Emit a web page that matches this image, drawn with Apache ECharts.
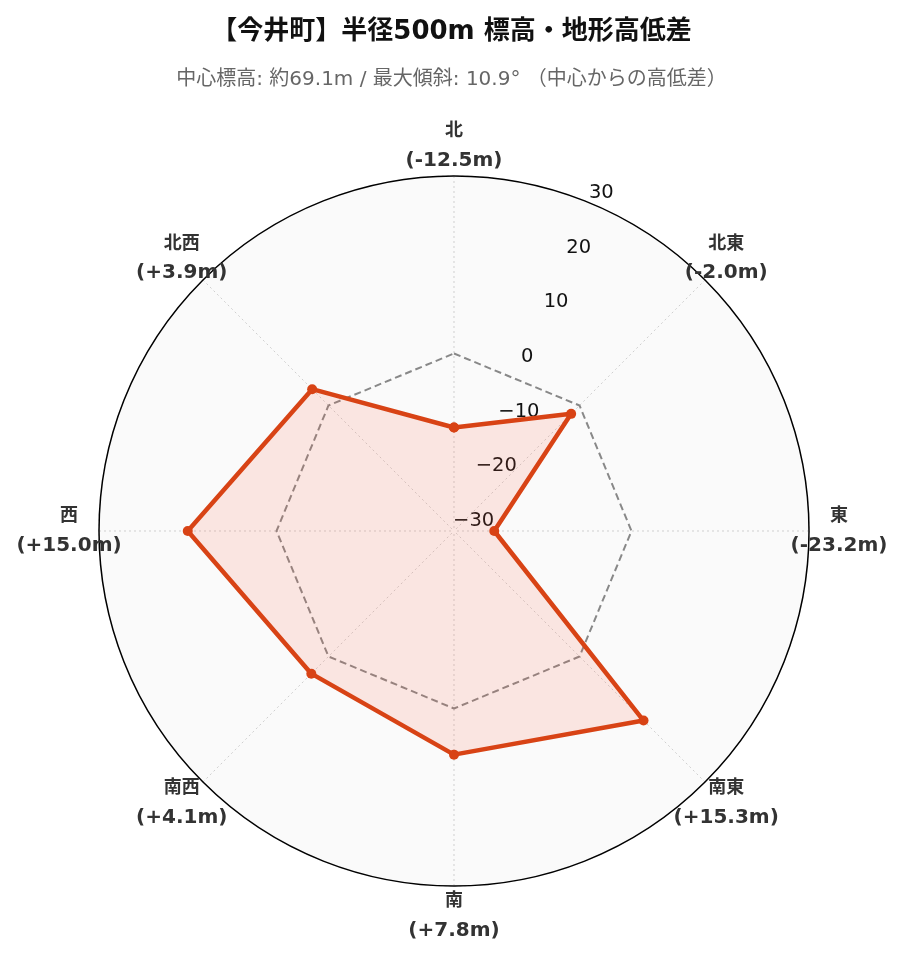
<!DOCTYPE html>
<html>
<head>
<meta charset="utf-8">
<script src="https://cdn.jsdelivr.net/npm/echarts@6/dist/echarts.min.js"></script>
<style>
  html, body { margin: 0; padding: 0; background: #ffffff; }
  #chart { width: 903px; height: 962px; }
</style>
</head>
<body>
<div id="chart"></div>
<script>
// ---- data ----
const directions = ['北', '北東', '東', '南東', '南', '南西', '西', '北西'];
const elevationDiff = [-12.5, -2.0, -23.2, 15.3, 7.8, 4.1, 15.0, 3.9];
const radialTicks = [-30, -20, -10, 0, 10, 20, 30];
const titleText = '【今井町】半径500m 標高・地形高低差';
const subtitleText = '中心標高: 約69.1m / 最大傾斜: 10.9° （中心からの高低差）';

// ---- build ----
const step = 360 / directions.length;
const angleOf = i => i * step;
const mainData = elevationDiff.map((v, i) => [v, angleOf(i)]);
mainData.push([elevationDiff[0], 360]);
const zeroData = elevationDiff.map((v, i) => [0, angleOf(i)]);
zeroData.push([0, 360]);
const fmt = v => (v > 0 ? '+' : v < 0 ? '-' : '') + Math.abs(v).toFixed(1) + 'm';
const labelData = directions.map((d, i) => ({ value: [1, angleOf(i)], name: d, diff: elevationDiff[i] }));

const FONT = "'DejaVu Sans', 'Noto Sans CJK JP', sans-serif";
const CX = 454, CY = 531, R = 355;
const rMin = radialTicks[0], rMax = radialTicks[radialTicks.length - 1];
const rInterval = radialTicks[1] - radialTicks[0];

const chart = echarts.init(document.getElementById('chart'), null, { renderer: 'canvas' });
chart.setOption({
  animation: false,
  backgroundColor: '#ffffff',
  title: [
    { text: titleText, left: 'center', top: 14,
      textStyle: { fontFamily: FONT, fontSize: 26, fontWeight: 'bold', color: '#111' } },
    { text: subtitleText, left: 'center', top: 65,
      textStyle: { fontFamily: FONT, fontSize: 20, fontWeight: 'normal', color: '#666' } }
  ],
  polar: [
    { center: [CX, CY], radius: R },
    { center: [CX, CY], radius: 385 },
    { center: [CX, CY], radius: R }
  ],
  angleAxis: [
    { polarIndex: 0, type: 'value', min: 0, max: 360, interval: step, startAngle: 90, clockwise: true,
      axisLine: { show: true, lineStyle: { color: '#000', width: 1.5 } },
      axisTick: { show: false }, axisLabel: { show: false },
      splitLine: { show: true, lineStyle: { color: '#cfcfcf', type: [2, 3], width: 1 } } },
    { polarIndex: 1, type: 'value', min: 0, max: 360, startAngle: 90, clockwise: true,
      axisLine: { show: false }, axisTick: { show: false }, axisLabel: { show: false }, splitLine: { show: false } },
    { polarIndex: 2, type: 'value', min: 0, max: 360, startAngle: 67.5, clockwise: true,
      axisLine: { show: false }, axisTick: { show: false }, axisLabel: { show: false }, splitLine: { show: false } }
  ],
  radiusAxis: [
    { polarIndex: 0, type: 'value', min: rMin, max: rMax, interval: rInterval,
      axisLine: { show: false }, axisTick: { show: false }, axisLabel: { show: false },
      splitLine: { show: true, lineStyle: { color: '#cfcfcf', type: [2, 3], width: 1 } },
      splitArea: { show: true, areaStyle: { color: ['#fafafa'] } } },
    { polarIndex: 1, type: 'value', min: 0, max: 1,
      axisLine: { show: false }, axisTick: { show: false }, axisLabel: { show: false }, splitLine: { show: false } },
    { polarIndex: 2, type: 'value', min: rMin, max: rMax, interval: rInterval, z: 1,
      axisLine: { show: false }, axisTick: { show: false }, splitLine: { show: false },
      axisLabel: { show: true, margin: 1, align: 'left', verticalAlign: 'bottom',
        fontFamily: FONT, fontSize: 19.5, color: '#111',
        formatter: v => String(v).replace('-', '\u2212') } }
  ],
  series: [
    { type: 'line', coordinateSystem: 'polar', polarIndex: 0, data: zeroData,
      symbol: 'none', silent: true, z: 2,
      lineStyle: { color: '#888', width: 2, type: [7, 4] } },
    { type: 'line', coordinateSystem: 'polar', polarIndex: 0, data: mainData,
      symbol: 'circle', symbolSize: 10, z: 3, clip: false,
      itemStyle: { color: '#d84315' },
      lineStyle: { color: '#d84315', width: 4.5 },
      areaStyle: { color: 'rgba(255, 99, 71, 0.19)', origin: 'start' } },
    { type: 'scatter', coordinateSystem: 'polar', polarIndex: 1, data: labelData,
      symbolSize: 0, clip: false, silent: true, z: 5,
      itemStyle: { color: '#333', opacity: 1 },
      label: { show: true, position: 'inside', align: 'center', verticalAlign: 'middle',
        color: '#333', textBorderWidth: 0, opacity: 1,
        formatter: p => '{n|' + p.data.name + '}\n{v|(' + fmt(p.data.diff) + ')}',
        rich: {
          n: { fontFamily: FONT, fontSize: 18, fontWeight: 'bold', color: '#333', textBorderWidth: 0, lineHeight: 29, align: 'center' },
          v: { fontFamily: FONT, fontSize: 20, fontWeight: 'bold', color: '#333', textBorderWidth: 0, lineHeight: 29, align: 'center' }
        } } }
  ]
});
</script>
</body>
</html>
